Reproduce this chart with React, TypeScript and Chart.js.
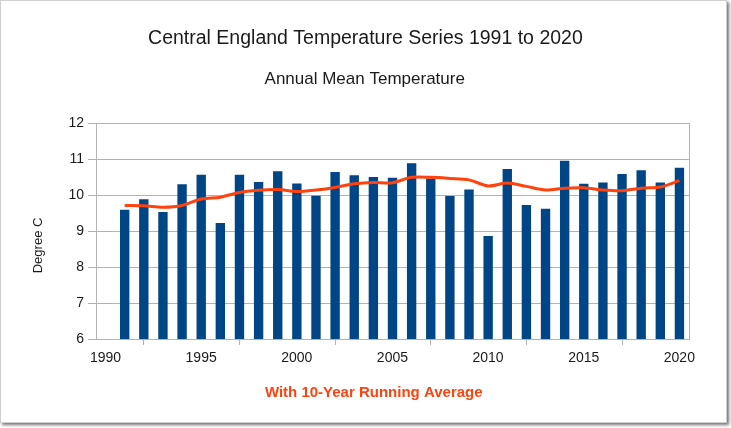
import { useEffect, useRef } from 'react';
import { Chart, registerables } from 'chart.js';

Chart.register(...registerables);

const years = [
  1991, 1992, 1993, 1994, 1995, 1996, 1997, 1998, 1999, 2000,
  2001, 2002, 2003, 2004, 2005, 2006, 2007, 2008, 2009, 2010,
  2011, 2012, 2013, 2014, 2015, 2016, 2017, 2018, 2019, 2020,
];

const annualMean = [
  9.59, 9.88, 9.53, 10.3, 10.56, 9.22, 10.56, 10.36, 10.66, 10.32,
  9.98, 10.64, 10.55, 10.5, 10.48, 10.88, 10.46, 9.97, 10.15, 8.86,
  10.72, 9.72, 9.62, 10.95, 10.31, 10.35, 10.58, 10.69, 10.35, 10.76,
];

const runningAvg = [
  9.71, 9.7, 9.66, 9.71, 9.89, 9.94, 10.07, 10.13, 10.15, 10.1,
  10.14, 10.21, 10.31, 10.35, 10.34, 10.49, 10.49, 10.46, 10.42, 10.25,
  10.33, 10.24, 10.14, 10.19, 10.2, 10.14, 10.12, 10.19, 10.22, 10.4,
];

const yTicks = [6, 7, 8, 9, 10, 11, 12];
const xTickYears = [1990, 1995, 2000, 2005, 2010, 2015, 2020];

const FONT = "'Liberation Sans', Arial, sans-serif";
const TEXT = '#1a1a1a';
const GRID = '#b3b3b3';
const NBSP = '\u00a0';

export default function App() {
  const ref = useRef<HTMLCanvasElement>(null);

  useEffect(() => {
    if (!ref.current) return;
    Chart.defaults.font.family = FONT;
    const chart = new Chart(ref.current, {
      type: 'bar',
      data: {
        datasets: [
          {
            type: 'line',
            label: '10-Year Running Average',
            data: years.map((y, i) => ({ x: y, y: runningAvg[i] })),
            borderColor: '#ff420e',
            backgroundColor: '#ff420e',
            borderWidth: 3,
            pointRadius: 0,
            tension: 0.3,
            xAxisID: 'x',
            yAxisID: 'y',
            order: 0,
          } as any,
          {
            type: 'bar',
            label: 'Annual Mean Temperature',
            data: years.map((y, i) => ({ x: y, y: annualMean[i] })),
            backgroundColor: '#004586',
            barPercentage: 0.49,
            categoryPercentage: 1,
            xAxisID: 'x',
            yAxisID: 'y',
            order: 1,
          } as any,
        ],
      },
      options: {
        animation: false,
        responsive: false,
        maintainAspectRatio: false,
        layout: { padding: { left: 31, right: 42, top: 0, bottom: 0 } },
        plugins: {
          legend: { display: false },
          tooltip: { enabled: false },
          title: {
            display: true,
            text: NBSP.repeat(2) + 'Central England Temperature Series 1991 to 2020',
            color: TEXT,
            font: { family: FONT, size: 19.5, weight: 'normal' },
            padding: { top: 27, bottom: 19 },
          },
          subtitle: {
            display: true,
            text: NBSP.repeat(2) + 'Annual Mean Temperature',
            color: TEXT,
            font: { family: FONT, size: 17, weight: 'normal' },
            padding: { top: 0, bottom: 33.2 },
          },
        },
        scales: {
          x: {
            type: 'linear',
            min: years[0] - 1.5,
            max: years[years.length - 1] + 0.5,
            offset: false,
            display: false,
          },
          xTicks: {
            type: 'linear',
            position: 'bottom',
            min: xTickYears[0],
            max: years[years.length - 1] + 1,
            offset: false,
            afterBuildTicks: (s: any) => {
              s.ticks = xTickYears.map((v) => ({ value: v }));
            },
            ticks: {
              callback: (v: any) => String(v),
              color: TEXT,
              font: { family: FONT, size: 14 },
              padding: 5,
              labelOffset: 9.5,
              maxRotation: 0,
              autoSkip: false,
            },
            grid: { drawOnChartArea: false, tickLength: 6, color: GRID },
            border: { color: GRID },
            title: {
              display: true,
              text: 'With 10-Year Running Average' + NBSP.repeat(9),
              color: '#ff420e',
              font: { family: FONT, size: 15, weight: 'bold' },
              padding: { top: 0, bottom: 26 },
            },
            afterFit: (s: any) => {
              s.height = 89;
            },
          },
          y: {
            min: yTicks[0],
            max: yTicks[yTicks.length - 1],
            afterBuildTicks: (s: any) => {
              s.ticks = yTicks.map((v) => ({ value: v }));
            },
            ticks: {
              color: TEXT,
              font: { family: FONT, size: 14 },
              padding: 4,
            },
            grid: { color: GRID, tickLength: 8 },
            border: { color: GRID },
            title: {
              display: true,
              text: 'Degree C' + NBSP.repeat(8),
              color: TEXT,
              font: { family: FONT, size: 13 },
              padding: { top: 0, bottom: 0 },
            },
            afterFit: (s: any) => {
              s.width = 65;
            },
          },
          yRight: {
            position: 'right',
            min: yTicks[0],
            max: yTicks[yTicks.length - 1],
            ticks: { display: false },
            grid: { drawOnChartArea: false, drawTicks: false, tickLength: 0 },
            border: { color: GRID },
            afterFit: (s: any) => {
              s.width = 0;
            },
          },
        },
      } as any,
    });
    return () => chart.destroy();
  }, []);

  return (
    <div style={{ position: 'fixed', left: 0, top: 0, width: 731, height: 428, background: '#fff' }}>
      <div
        style={{
          position: 'absolute',
          left: 0,
          top: 0,
          width: 727,
          height: 423,
          boxSizing: 'border-box',
          border: '1px solid #cfcfcf',
          background: '#fff',
          boxShadow: '2px 2px 3px rgba(0,0,0,0.55)',
        }}
      />
      <canvas
        ref={ref}
        width={731}
        height={428}
        style={{ position: 'absolute', left: 0, top: 0, width: 731, height: 428 }}
      />
    </div>
  );
}
